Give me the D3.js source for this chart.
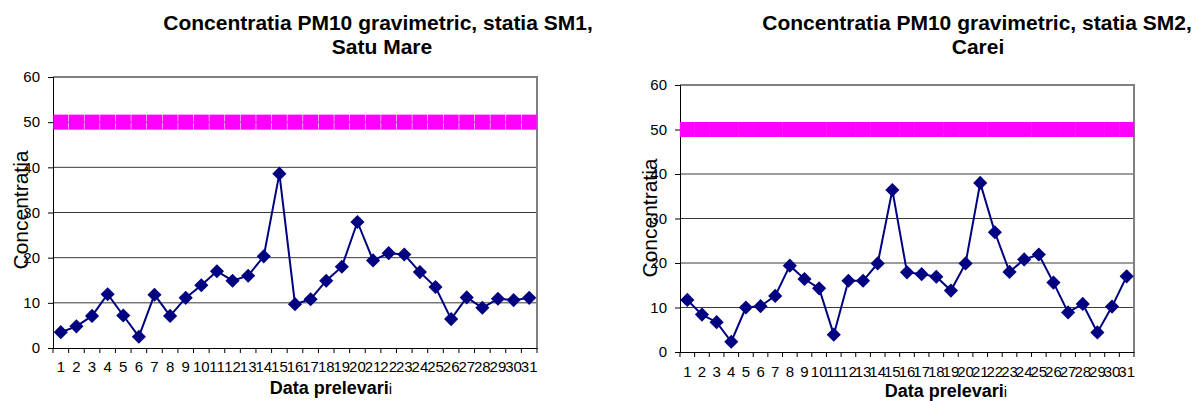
<!DOCTYPE html>
<html><head><meta charset="utf-8">
<script src="https://cdn.jsdelivr.net/npm/d3@7"></script>
<style>
body{margin:0;background:#fff}
svg{display:block}
text{font-family:"Liberation Sans",Arial,sans-serif}
</style>
</head><body>
<svg id="c" width="1199" height="401"></svg>
<script>
const days = ["1","2","3","4","5","6","7","8","9","10","11","12","13","14","15","16","17","18","19","20","21","22","23","24","25","26","27","28","29","30","31"];
const sm1Values = [3.5,4.8,7.1,11.9,7.2,2.5,11.8,7.1,11.1,13.9,17.0,14.9,16.0,20.3,38.6,9.7,10.8,14.9,18.0,27.9,19.4,21.0,20.7,16.8,13.5,6.4,11.2,8.9,10.9,10.6,11.1];
const sm2Values = [11.7,8.4,6.7,2.3,10.0,10.3,12.6,19.4,16.4,14.3,3.9,16.0,16.0,19.9,36.4,17.9,17.5,16.9,13.8,19.9,38.0,26.9,18.0,20.8,21.9,15.6,8.9,10.8,4.4,10.2,17.0];
const limitValues = [50,50,50,50,50,50,50,50,50,50,50,50,50,50,50,50,50,50,50,50,50,50,50,50,50,50,50,50,50,50,50];
const yTickValues = [0,10,20,30,40,50,60];
const titleSM1 = ["Concentratia PM10 gravimetric, statia SM1,", "Satu Mare"];
const titleSM2 = ["Concentratia PM10 gravimetric, statia SM2,", "Carei"];
const xAxisTitle = "Data prelevari";
const xAxisTitleTail = "i";
const yAxisTitle = "Concentratia";

const svg = d3.select("#c");

function drawChart(cfg) {
  const g = svg.append("g");
  const x = d3.scaleBand().domain(days).range([cfg.left, cfg.right]);
  const y = d3.scaleLinear().domain([0, 60]).range([cfg.bottom, cfg.top]);
  const bw = x.bandwidth();

  // gridlines
  g.append("g").selectAll("line").data(yTickValues.filter(v => v > 0 && v < 60)).join("line")
    .attr("x1", cfg.left).attr("x2", cfg.right)
    .attr("y1", d => y(d)).attr("y2", d => y(d))
    .attr("stroke", "#3a3a3a").attr("stroke-width", 1);

  // border top / right
  g.append("path")
    .attr("d", `M${cfg.left},${y(60)}H${cfg.right}V${y(0)}`)
    .attr("fill", "none").attr("stroke", "#808080").attr("stroke-width", 2);

  // y axis
  const ya = g.append("g").attr("transform", `translate(${cfg.left},0)`)
    .call(d3.axisLeft(y).tickValues(yTickValues).tickSize(5).tickPadding(8).tickFormat(d3.format("d")));
  ya.select(".domain").attr("stroke", "#000");
  ya.selectAll("text").attr("font-size", 15).attr("fill", "#000").style("font-family", '"Liberation Sans",Arial,sans-serif');

  // x axis labels
  const xa = g.append("g").attr("transform", `translate(0,${cfg.bottom})`)
    .call(d3.axisBottom(x).tickSize(0).tickPadding(cfg.xPad));
  xa.select(".domain").attr("stroke", "#000");
  xa.selectAll("text").attr("font-size", 15).attr("fill", "#000").style("font-family", '"Liberation Sans",Arial,sans-serif');
  // boundary ticks
  const bounds = days.map(d => x(d)).concat([x(days[days.length - 1]) + bw]);
  g.append("g").selectAll("line").data(bounds).join("line")
    .attr("x1", d => d).attr("x2", d => d)
    .attr("y1", cfg.bottom).attr("y2", cfg.bottom + 5)
    .attr("stroke", "#000");

  // limit squares
  g.append("g").selectAll("rect").data(limitValues).join("rect")
    .attr("x", (d, i) => x(days[i]) + bw / 2 - 7.5)
    .attr("y", d => y(d) - 7.5)
    .attr("width", 15).attr("height", 15)
    .attr("fill", "#ff00ff");

  // data line
  const line = d3.line().x((d, i) => x(days[i]) + bw / 2).y(d => y(d));
  g.append("path").datum(cfg.values).attr("d", line)
    .attr("fill", "none").attr("stroke", "#000080").attr("stroke-width", 2);

  // diamonds
  const sym = d3.symbol(d3.symbolSquare, 100);
  g.append("g").selectAll("path").data(cfg.values).join("path")
    .attr("d", sym)
    .attr("transform", (d, i) => `translate(${x(days[i]) + bw / 2},${y(d)}) rotate(45)`)
    .attr("fill", "#000080");

  // title
  const t = g.append("text").attr("text-anchor", "middle").attr("font-size", 21).attr("font-weight", "bold").attr("fill", "#000");
  t.append("tspan").attr("x", cfg.titleX).attr("y", 30).text(cfg.title[0]);
  t.append("tspan").attr("x", cfg.titleX2).attr("y", 54).text(cfg.title[1]);

  // x axis title
  const xt = g.append("text").attr("x", cfg.xTitleX).attr("y", cfg.xTitleY).attr("text-anchor", "middle")
    .attr("font-size", 18).attr("font-weight", "bold").attr("fill", "#000");
  xt.append("tspan").text(xAxisTitle);
  xt.append("tspan").attr("font-weight", "normal").attr("font-size", 15).text(xAxisTitleTail);

  // y axis title
  g.append("text").attr("transform", `translate(${cfg.yTitleX},${cfg.yTitleY}) rotate(-90)`)
    .attr("text-anchor", "middle").attr("font-size", 21).attr("fill", "#000").text(yAxisTitle);
}

drawChart({left: 53, right: 537, top: 77, bottom: 348, xPad: 13, values: sm1Values, title: titleSM1,
  titleX: 378, titleX2: 382, xTitleX: 331, xTitleY: 394, yTitleX: 28, yTitleY: 210});
drawChart({left: 680, right: 1134, top: 85, bottom: 352, xPad: 14, values: sm2Values, title: titleSM2,
  titleX: 977, titleX2: 978, xTitleX: 946, xTitleY: 397, yTitleX: 657, yTitleY: 218});
</script>
</body></html>
